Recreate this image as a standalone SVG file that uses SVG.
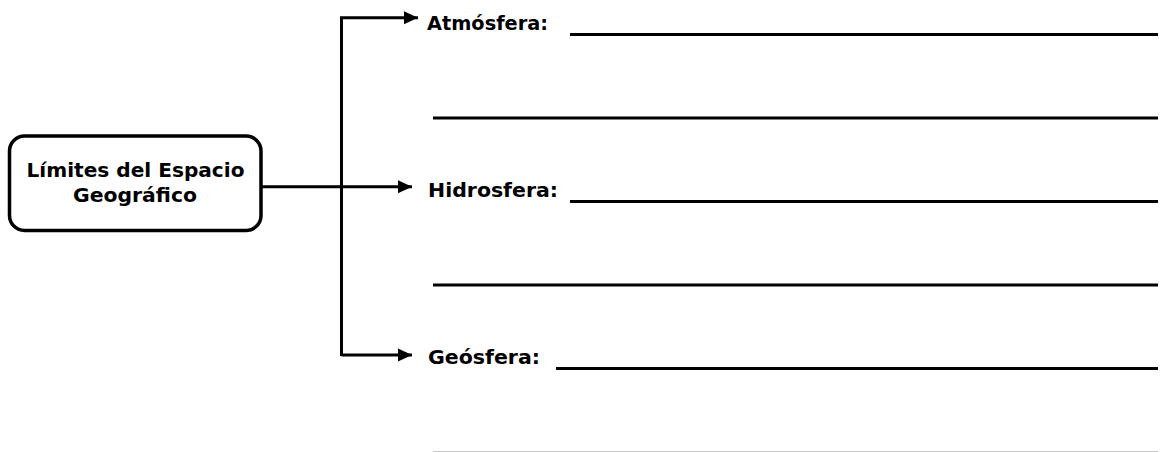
<svg xmlns="http://www.w3.org/2000/svg" width="1162" height="452" viewBox="0 0 1162 452">
<style>
.t{font-family:"DejaVu Sans","Liberation Sans",sans-serif;font-weight:bold;font-size:19.5px;fill:#000}
.c{fill:none;stroke:#000;stroke-width:3}
.u{stroke:#000;stroke-width:3}
</style>
<defs>
<marker id="ah" markerUnits="userSpaceOnUse" markerWidth="14" markerHeight="14" refX="14" refY="7" orient="auto" viewBox="0 0 14 14">
<path d="M0,0.5 L14,7 L0,13.5 Z" fill="#000"/>
</marker>
</defs>
<rect width="1162" height="452" fill="#fff"/>
<g id="connectors">
<path class="c" d="M341.5,356 V17.7 H418" marker-end="url(#ah)"/>
<path class="c" d="M261,186.7 H412" marker-end="url(#ah)"/>
<path class="c" d="M341.5,355 H412" marker-end="url(#ah)"/>
</g>
<g id="node-limites">
<rect x="9.5" y="136" width="251.5" height="94.5" rx="15" ry="15" fill="#fff" stroke="#000" stroke-width="3.5"/>
<text class="t" x="135.5" y="177" text-anchor="middle" textLength="218" lengthAdjust="spacingAndGlyphs">Límites del Espacio</text>
<text class="t" x="135" y="202" text-anchor="middle" textLength="124" lengthAdjust="spacingAndGlyphs">Geográfico</text>
</g>
<g id="node-atmosfera">
<text class="t" x="427" y="30" textLength="121" lengthAdjust="spacingAndGlyphs">Atmósfera:</text>
<line class="u" x1="570" y1="34.5" x2="1158" y2="34.5"/>
<line class="u" x1="433" y1="118" x2="1158" y2="118"/>
</g>
<g id="node-hidrosfera">
<text class="t" x="428" y="197" textLength="130" lengthAdjust="spacingAndGlyphs">Hidrosfera:</text>
<line class="u" x1="570" y1="201.5" x2="1158" y2="201.5"/>
<line class="u" x1="433" y1="285" x2="1158" y2="285"/>
</g>
<g id="node-geosfera">
<text class="t" x="428" y="364" textLength="112" lengthAdjust="spacingAndGlyphs">Geósfera:</text>
<line class="u" x1="556" y1="368.5" x2="1158" y2="368.5"/>
<line x1="433" y1="451.5" x2="1158" y2="451.5" stroke="#c8c8c8" stroke-width="1"/>
</g>
</svg>
